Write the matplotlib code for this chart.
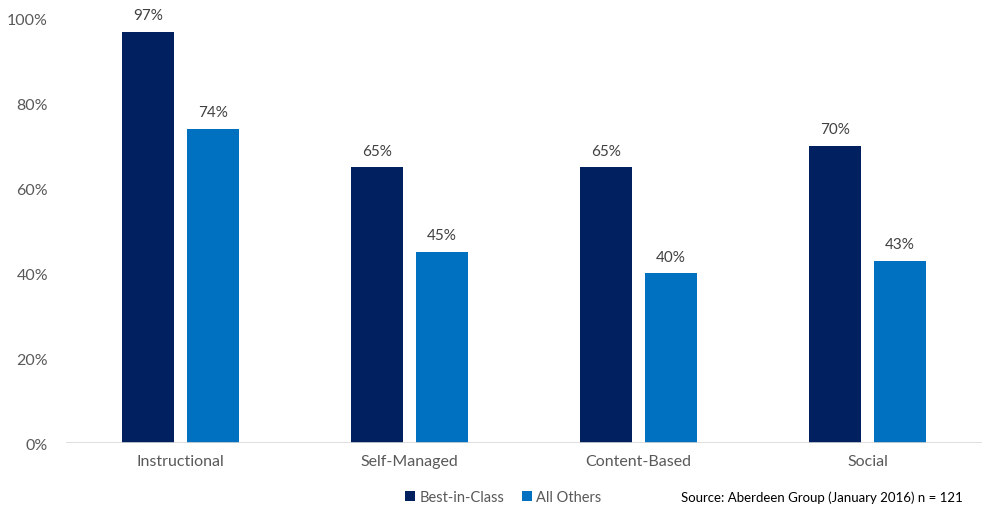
import numpy as np
import matplotlib.pyplot as plt

categories = ['Instructional', 'Self-Managed', 'Content-Based', 'Social']
best_in_class = [97, 65, 65, 70]
all_others = [74, 45, 40, 43]

plt.rcParams['font.family'] = ['Lato', 'DejaVu Sans']
gray = '#595959'

fig = plt.figure(figsize=(9.89, 5.06), dpi=100)
ax = fig.add_axes([66 / 989, 1 - 444 / 506, 916 / 989, 424 / 506])

x = np.arange(len(categories))
w = 0.227
off = 0.142
b1 = ax.bar(x - off, best_in_class, w, color='#002060', label='Best-in-Class')
b2 = ax.bar(x + off, all_others, w, color='#0070C0', label='All Others')

for bars, vals in [(b1, best_in_class), (b2, all_others)]:
    for b, v in zip(bars, vals):
        ax.text(b.get_x() + b.get_width() / 2, v + 2.3, f'{v}%', ha='center', va='bottom',
                fontsize=11, color='#404040')

ax.set_xlim(-0.5, 3.5)
ax.set_ylim(0, 100)
ax.set_yticks(range(0, 101, 20))
ax.set_yticklabels([f'{t}%' for t in range(0, 101, 20)])
ax.set_xticks(x)
ax.set_xticklabels(categories)
ax.tick_params(length=0, colors=gray, labelsize=11.5)
ax.tick_params(axis='y', pad=13)
ax.tick_params(axis='x', pad=8)
for s in ax.spines.values():
    s.set_visible(False)
ax.axhline(0, color='#d9d9d9', lw=1.2)

fig.legend(handles=[b1, b2], loc='center', bbox_to_anchor=(503 / 989, 1 - 498 / 506), ncol=2,
           frameon=False, fontsize=10.5, handlelength=0.7, handleheight=0.7, handletextpad=0.3,
           columnspacing=1.2, labelcolor=gray)
fig.text(681 / 989, 1 - 498 / 506, 'Source: Aberdeen Group (January 2016) n = 121', fontsize=9.5,
         color='black', va='center', ha='left')

fig.savefig('out.png', dpi=100)
